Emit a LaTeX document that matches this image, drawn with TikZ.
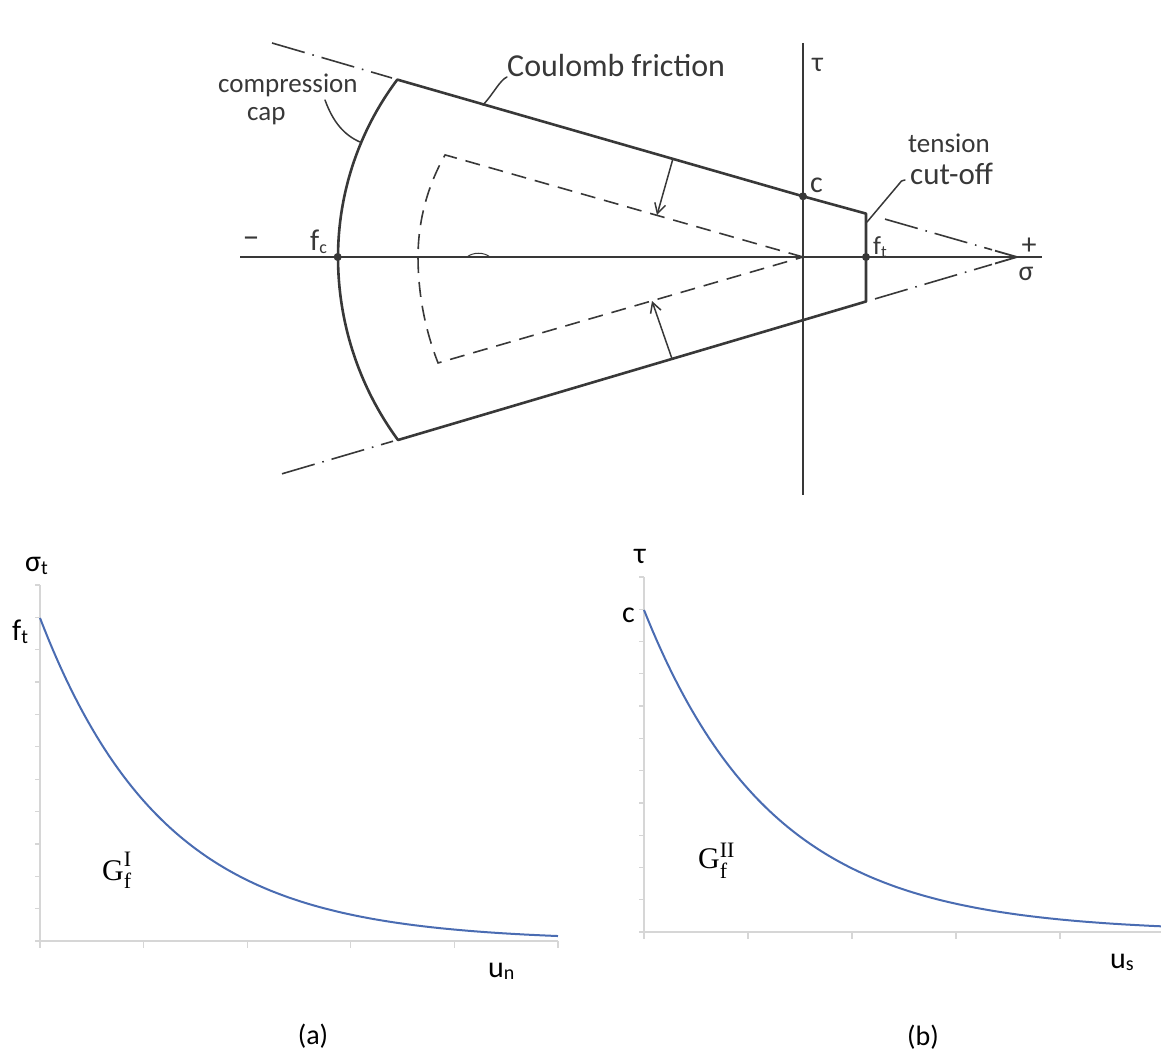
\documentclass[tikz,border=0pt]{standalone}
\usepackage{fontspec}
\setmainfont{Liberation Serif}
\newfontfamily\calfont{Carlito}
\usetikzlibrary{arrows.meta}
\newcommand\hfs[1]{\calfont\fontsize{#1}{#1}\selectfont}
\newcommand\sfs[1]{\fontsize{#1}{#1}\selectfont}
\definecolor{pencil}{gray}{0.22}
\definecolor{xlblue}{RGB}{74,108,178}
\definecolor{xlgrey}{gray}{0.84}
\begin{document}
\begin{tikzpicture}[x=1pt,y=-1pt,
  outline/.style={draw=pencil,line width=2.6pt,line cap=round,line join=round},
  axisline/.style={draw=pencil,line width=1.8pt},
  dashline/.style={draw=pencil,line width=1.6pt,dash pattern=on 15pt off 9pt},
  dashdot/.style={draw=pencil,line width=1.6pt,dash pattern=on 34pt off 8pt on 1.6pt off 8pt},
  thinpen/.style={draw=pencil,line width=1.5pt,line cap=round},
  hand/.style={inner sep=0pt,text=pencil},
  lbl/.style={inner sep=0pt,text=black},
  gaxis/.style={draw=xlgrey,line width=1.3pt},
  decay/.style={draw=xlblue,line width=2pt}]
\useasboundingbox (0,0) rectangle (1161,1051);

% ---------------- top: yield surface ----------------
\coordinate (A) at (1017,257);
\coordinate (O) at (803,257);
\coordinate (TL) at (397,79.5);
\coordinate (BL) at (398,440);
\coordinate (C) at (803,196.3);
\coordinate (TR) at (866,213.6);
\coordinate (BR) at (866,301.5);
\coordinate (FC) at (337.7,257);
\coordinate (FT) at (866,257);
\coordinate (IT) at (445.1,154.9);

% axes
\draw[axisline] (240,257) -- (1042,257);
\draw[axisline] (803,43) -- (803,495);
\draw[line width=1pt,draw=pencil] (467,257) .. controls (473,252) and (484,252) .. (490,257);

% dash-dot extensions of the friction lines
\draw[dashdot] (272,43) -- (392,78);
\draw[dashdot] (885,219.1) -- (992,249.8);
\draw[dashdot] (875,298.9) -- (992,264.4);
\draw[dashdot] (282,473.8) -- (393,441.2);
\draw[axisline,line join=miter] (995,250.7) -- (A) -- (995,263.5);

% outline of the yield surface
\draw[outline] (BR) -- (BL)
  arc[start angle=143.7,end angle=180,radius=309]
  arc[start angle=180,end angle=216.94,radius=295.3]
  -- (C) -- (TR) -- cycle;

% inner (softened) surface
\draw[dashline] (O) -- (IT)
  arc[start angle=209.7,end angle=180,radius=206]
  arc[start angle=180,end angle=158.63,radius=290.9] -- (O);

% shrink arrows
\draw[thinpen,-{Straight Barb[length=10pt,width=11pt]}] (673,158.5) -- (657,215);
\draw[thinpen,-{Straight Barb[length=10pt,width=11pt]}] (672,358.8) -- (652,301);

% points
\fill[pencil] (FC) circle[radius=4];
\fill[pencil] (C) circle[radius=4];
\fill[pencil] (FT) circle[radius=4];

% labels and leaders
\node[hand,anchor=base west,font=\hfs{32}] (coul) at (507,77) {Coulomb friction};
\draw[thinpen] (483,105) .. controls (494,93) and (500,80) .. (507,77);
\node[hand,anchor=base west,font=\hfs{27}] (comp) at (218,93) {compression};
\node[hand,anchor=base west,font=\hfs{27}] (cap) at (247,121) {cap};
\draw[thinpen] (325,100) .. controls (333,122) and (344,135) .. (360,142);
\node[hand,anchor=base west,font=\hfs{27}] (tens) at (908,153) {tension};
\node[hand,anchor=base west,font=\hfs{31}] (cut) at (910,185) {cut-off};
\draw[thinpen] (867,222) -- (899,184) .. controls (901,181) .. (905,180);
\node[hand,anchor=base west,font=\hfs{28}] (tau) at (812,72) {τ};
\node[hand,anchor=base west,font=\hfs{30}] (clab) at (810,193) {c};
\node[hand,anchor=base west,font=\hfs{30}] (fclab) at (310,250) {f\raisebox{-3pt}{\hfs{18}c}};
\node[hand,anchor=base west,font=\hfs{26}] (ftlab) at (873,254) {f\raisebox{-3pt}{\hfs{17}t}};
\node[hand,font=\hfs{30}] (plus) at (1029,246) {+};
\node[hand,font=\hfs{34}] (minus) at (251,242) {\textendash};
\node[hand,font=\hfs{28}] (sig) at (1026,274) {σ};

% ---------------- bottom left: mode I softening ----------------
\draw[gaxis] (40,585) -- (40,941) -- (558,941);
\foreach \k in {0,...,11} \draw[gaxis] (35,{585+32.36*\k}) -- (40,{585+32.36*\k});
\foreach \xx in {40,143.6,247.2,350.8,454.4,558} \draw[gaxis] (\xx,941) -- (\xx,948);
\draw[decay] plot[domain=40:558,samples=120] (\x,{941-323*exp(-0.00805*(\x-40))});
\node[lbl,anchor=base west,font=\hfs{30}] (sigt) at (25,571) {σ\raisebox{-3pt}{\hfs{20}t}};
\node[lbl,anchor=base west,font=\hfs{30}] (ftb) at (12,640) {f\raisebox{-3pt}{\hfs{20}t}};
\node[lbl,anchor=base west,font=\hfs{30}] (un) at (488,977) {u\raisebox{-2pt}{\hfs{20}n}};
\node[lbl,anchor=base west,font=\sfs{30}] (gfi) at (102,880)
  {G\rlap{\raisebox{-8pt}{\sfs{22}f}}\raisebox{14pt}{\sfs{22}I}};
\node[lbl,font=\hfs{28}] (capa) at (313,1036) {(a)};

% ---------------- bottom right: mode II softening ----------------
\draw[gaxis] (644,577) -- (644,932) -- (1161,932);
\foreach \k in {0,...,11} \draw[gaxis] (639,{577+32.27*\k}) -- (644,{577+32.27*\k});
\foreach \xx in {644,748,852,956,1060} \draw[gaxis] (\xx,932) -- (\xx,939);
\draw[decay] plot[domain=644:1161,samples=120] (\x,{932-322*exp(-0.0078*(\x-644))});
\node[lbl,anchor=base west,font=\hfs{30}] (taub) at (634,563) {τ};
\node[lbl,anchor=base west,font=\hfs{30}] (cb) at (622,622) {c};
\node[lbl,anchor=base west,font=\hfs{30}] (us) at (1110,968) {u\raisebox{-2pt}{\hfs{20}s}};
\node[lbl,anchor=base west,font=\sfs{30}] (gfii) at (698,868)
  {G\rlap{\raisebox{-10pt}{\sfs{22}f}}\raisebox{11pt}{\sfs{22}II}};
\node[lbl,font=\hfs{28}] (capb) at (923,1037) {(b)};
\end{tikzpicture}
\end{document}
